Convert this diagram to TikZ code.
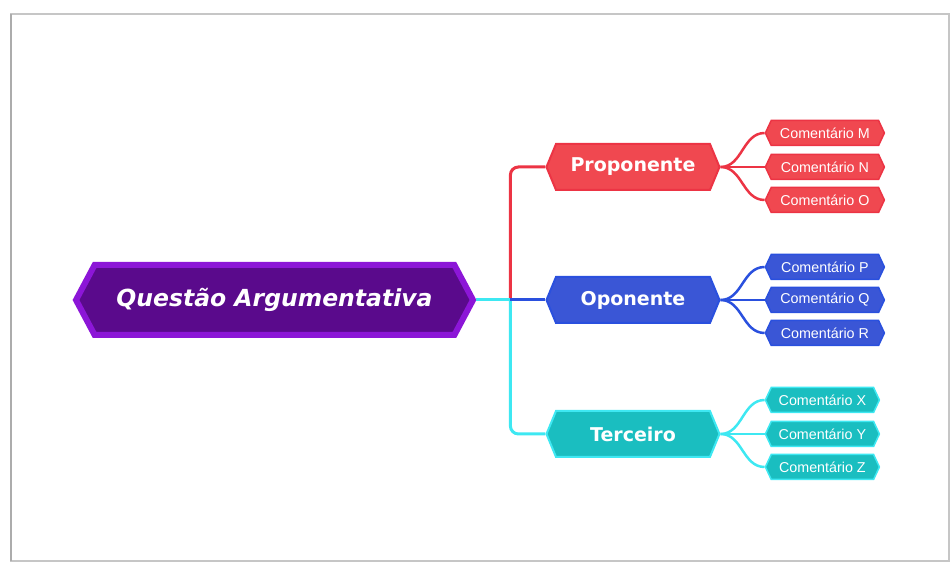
\documentclass[tikz,border=0pt]{standalone}
\usepackage{fontspec}
\setmainfont{DejaVu Sans}
\newfontfamily\arialfont{Liberation Sans}
\usetikzlibrary{shapes.symbols,positioning}
\definecolor{qafill}{RGB}{90,10,140}
\definecolor{qaborder}{RGB}{140,22,215}
\definecolor{redfill}{RGB}{240,72,80}
\definecolor{redline}{RGB}{236,52,68}
\definecolor{bluefill}{RGB}{58,86,214}
\definecolor{blueline}{RGB}{42,80,222}
\definecolor{tealfill}{RGB}{26,190,192}
\definecolor{tealline}{RGB}{62,232,242}
\tikzstyle{hexa} = [signal, signal to=west and east, text centered, inner sep=0pt, text=white]
\tikzstyle{root} = [hexa, draw=qaborder, fill=qafill, line width=6pt, minimum width=397pt, minimum height=70pt, signal pointer angle=124, font=\bfseries\itshape\fontsize{23.5}{28}\selectfont]
\tikzstyle{branch} = [hexa, line width=2pt, minimum width=173pt, minimum height=46pt, signal pointer angle=135, font=\bfseries\fontsize{19}{23}\selectfont]
\tikzstyle{leaf} = [hexa, line width=1.5pt, minimum width=119pt, minimum height=25pt, signal pointer angle=130, font=\arialfont\fontsize{14.3}{16}\selectfont]
\tikzstyle{line} = [draw, line width=3pt, rounded corners=8pt]
\tikzstyle{twig} = [draw, line width=2.5pt]

\begin{document}
\begin{tikzpicture}[x=1pt, y=1pt]
    \useasboundingbox (0,0) rectangle (951,564);
    % frame
    \draw [gray!45, line width=1.2pt] (11,3) rectangle (949,550);
    \draw [gray!65, line width=2pt] (11,3) -- (11,550);
    % Place nodes
    \node [root] (qa) at (274.5,264) {Questão Argumentativa};
    \node [branch, right=69pt of qa, draw=blueline, fill=bluefill] (opo) {Oponente};
    \node [branch, above=85pt of opo, draw=redline, fill=redfill] (prop) {Proponente};
    \node [branch, below=86pt of opo, draw=tealline, fill=tealfill] (terc) {Terceiro};
    \node [leaf, right=44pt of prop.east, yshift=34pt, draw=redline, fill=redfill] (m) {Comentário M};
    \node [leaf, right=44pt of prop.east, draw=redline, fill=redfill] (n) {Comentário N};
    \node [leaf, right=44pt of prop.east, yshift=-33pt, draw=redline, fill=redfill] (o) {Comentário O};
    \node [leaf, right=44pt of opo.east, yshift=33pt, draw=blueline, fill=bluefill] (p) {Comentário P};
    \node [leaf, right=44pt of opo.east, draw=blueline, fill=bluefill] (q) {Comentário Q};
    \node [leaf, right=44pt of opo.east, yshift=-33pt, draw=blueline, fill=bluefill] (r) {Comentário R};
    \node [leaf, right=44pt of terc.east, yshift=34pt, minimum width=114pt, draw=tealline, fill=tealfill] (x) {Comentário X};
    \node [leaf, right=44pt of terc.east, minimum width=114pt, draw=tealline, fill=tealfill] (y) {Comentário Y};
    \node [leaf, right=44pt of terc.east, yshift=-33pt, minimum width=114pt, draw=tealline, fill=tealfill] (z) {Comentário Z};
    \coordinate [right=34pt of qa.east] (hub);
    % Draw edges
    \path [line, redline] (hub) |- (prop.west);
    \path [line, tealline] (hub) |- (terc.west);
    \path [line, tealline] (qa.east) -- (hub);
    \path [line, blueline] (hub) -- (opo.west);
    \path [twig, redline] (prop.east) .. controls +(22,0) and +(-22,0) .. (m.west);
    \path [twig, redline] (prop.east) -- (n.west);
    \path [twig, redline] (prop.east) .. controls +(22,0) and +(-22,0) .. (o.west);
    \path [twig, blueline] (opo.east) .. controls +(22,0) and +(-22,0) .. (p.west);
    \path [twig, blueline] (opo.east) -- (q.west);
    \path [twig, blueline] (opo.east) .. controls +(22,0) and +(-22,0) .. (r.west);
    \path [twig, tealline] (terc.east) .. controls +(22,0) and +(-22,0) .. (x.west);
    \path [twig, tealline] (terc.east) -- (y.west);
    \path [twig, tealline] (terc.east) .. controls +(22,0) and +(-22,0) .. (z.west);
\end{tikzpicture}
\end{document}
